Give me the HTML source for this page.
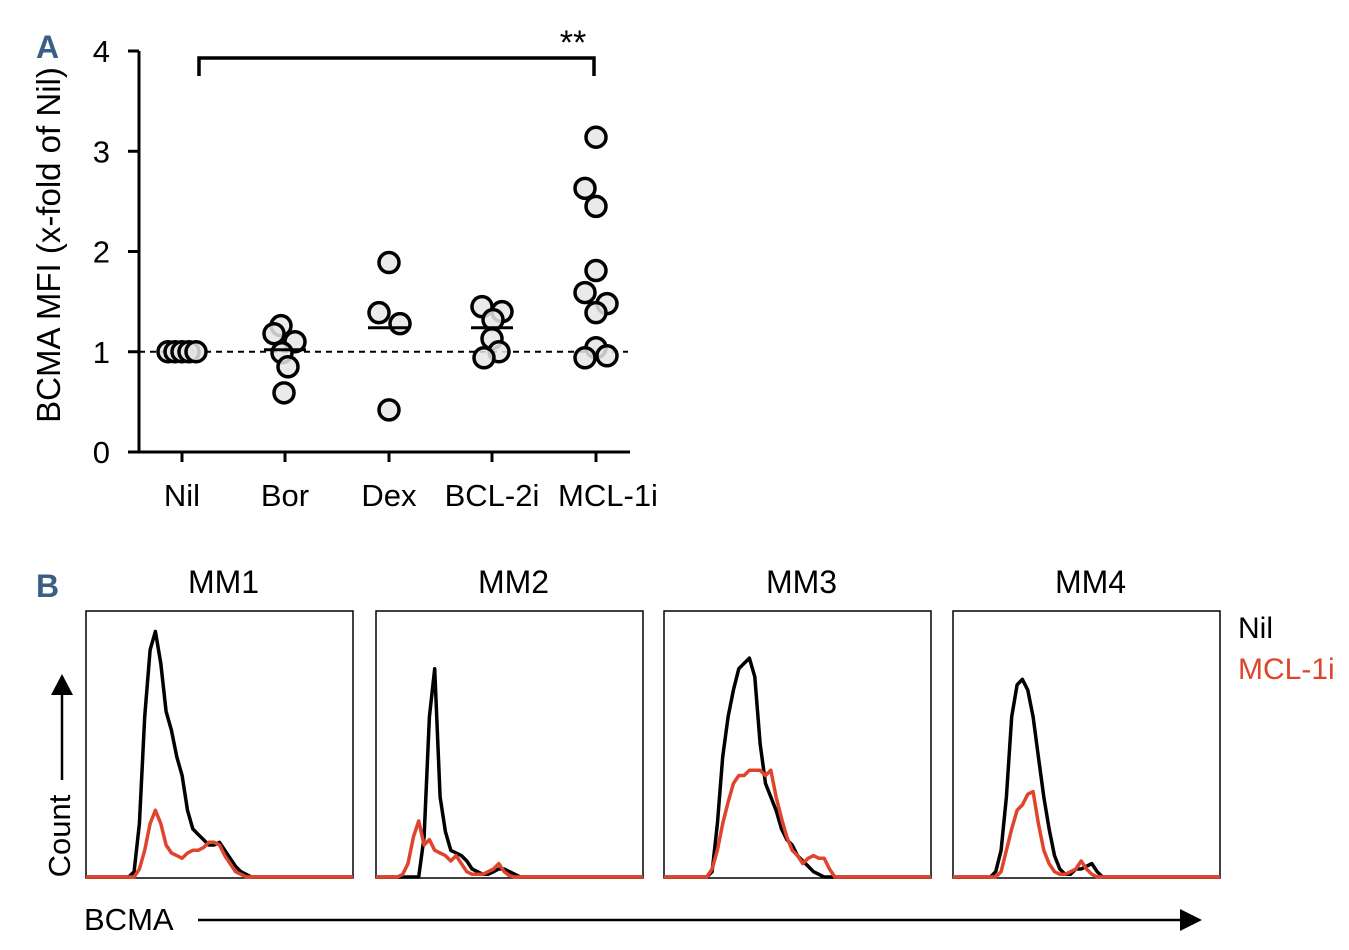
<!DOCTYPE html>
<html><head><meta charset="utf-8"><style>
body{margin:0;background:#fff;}
svg{display:block;font-family:"Liberation Sans",sans-serif;}
</style></head><body>
<svg id="fig" width="1349" height="950" viewBox="0 0 1349 950">
<text x="36" y="58" font-size="32" font-weight="bold" fill="#3a5f86">A</text>
<text x="36" y="597" font-size="32" font-weight="bold" fill="#3a5f86">B</text>
<g id="panelA"></g>
<g id="panelB"></g>
</svg>
<script>
const categories=["Nil","Bor","Dex","BCL-2i","MCL-1i"];
const yTicks=[0,1,2,3,4];
const nilVals=[1,1,1,1,1];
const borVals=[1.26,1.18,1.10,0.99,0.85,0.59];
const dexVals=[1.89,1.39,1.28,0.42];
const bclVals=[1.45,1.40,1.32,1.13,1.0,0.94];
const mclVals=[3.14,2.63,2.45,1.81,1.59,1.48,1.39,1.04,0.96,0.94];
const groupMeans=[1.0,1.02,1.24,1.24,null];
const jitter=[[-14,-7,0,7,14],[-4,-11,10,-3,3,-1],[0,-10,11,0],[-10,10,1,0,7,-8],[0,-11,0,0,-11,11,0,0,11,-11]];
const histLabels=["MM1","MM2","MM3","MM4"];
const nilHist=[
[0,0,0,0,0,0,0,0,0,0.02,0.2,0.6,0.85,0.92,0.8,0.62,0.55,0.45,0.38,0.25,0.18,0.16,0.14,0.12,0.12,0.13,0.1,0.07,0.04,0.02,0.01,0,0,0,0,0,0,0,0,0,0,0,0,0,0,0,0,0,0,0,0],
[0,0,0,0,0,0,0,0,0,0.15,0.6,0.78,0.3,0.17,0.1,0.09,0.08,0.06,0.03,0.02,0.01,0.01,0.02,0.03,0.03,0.02,0.01,0,0,0,0,0,0,0,0,0,0,0,0,0,0,0,0,0,0,0,0,0,0,0,0],
[0,0,0,0,0,0,0,0,0,0.02,0.2,0.45,0.6,0.7,0.78,0.8,0.82,0.75,0.5,0.35,0.3,0.25,0.18,0.14,0.12,0.08,0.06,0.04,0.02,0.01,0,0,0,0,0,0,0,0,0,0,0,0,0,0,0,0,0,0,0,0,0],
[0,0,0,0,0,0,0,0,0.02,0.1,0.3,0.6,0.72,0.74,0.7,0.6,0.45,0.3,0.18,0.08,0.03,0.01,0.01,0.03,0.03,0.04,0.05,0.02,0,0,0,0,0,0,0,0,0,0,0,0,0,0,0,0,0,0,0,0,0,0,0]];
const mclHist=[
[0,0,0,0,0,0,0,0,0,0,0.03,0.1,0.2,0.25,0.2,0.12,0.09,0.08,0.07,0.09,0.1,0.1,0.11,0.13,0.13,0.12,0.08,0.05,0.02,0.01,0,0,0,0,0,0,0,0,0,0,0,0,0,0,0,0,0,0,0,0,0],
[0,0,0,0,0,0.01,0.05,0.15,0.21,0.12,0.14,0.1,0.09,0.08,0.06,0.08,0.05,0.02,0.01,0.01,0.01,0.02,0.03,0.05,0.02,0.005,0,0,0,0,0,0,0,0,0,0,0,0,0,0,0,0,0,0,0,0,0,0,0,0,0],
[0,0,0,0,0,0,0,0,0,0.03,0.1,0.2,0.28,0.35,0.38,0.38,0.4,0.4,0.4,0.38,0.4,0.3,0.22,0.15,0.1,0.08,0.05,0.07,0.08,0.07,0.07,0.03,0,0,0,0,0,0,0,0,0,0,0,0,0,0,0,0,0,0,0],
[0,0,0,0,0,0,0,0,0,0.02,0.1,0.18,0.25,0.27,0.31,0.32,0.2,0.1,0.05,0.02,0.01,0.01,0.02,0.03,0.06,0.03,0.01,0,0,0,0,0,0,0,0,0,0,0,0,0,0,0,0,0,0,0,0,0,0,0,0]];

const NS="http://www.w3.org/2000/svg";
function mk(p,t,a){const e=document.createElementNS(NS,t);for(const k in a)e.setAttribute(k,a[k]);p.appendChild(e);return e;}
const A=document.getElementById('panelA');
const y0=452,yPer=100.25;
const yS=v=>y0-v*yPer;
const catX=[182,285,389,492,596];
const xS=i=>catX[i];
let e=mk(A,'line',{x1:139,y1:yS(4),x2:139,y2:y0+1.5,stroke:'#000','stroke-width':3});


e=mk(A,'line',{x1:128,y1:y0,x2:630,y2:y0,stroke:'#000','stroke-width':3});


yTicks.forEach(t=>{
 mk(A,'line',{x1:128,y1:yS(t),x2:139,y2:yS(t),stroke:'#000','stroke-width':3});
 const tx=mk(A,'text',{x:110,y:yS(t)+11,'font-size':31,'text-anchor':'end'});tx.textContent=t;
 
 
});
categories.forEach((c,i)=>{
 mk(A,'line',{x1:xS(i),y1:y0,x2:xS(i),y2:y0+10,stroke:'#000','stroke-width':3});
 const tx=mk(A,'text',{x:xS(i)+(i==4?12:0),y:506,'font-size':31,'text-anchor':'middle'});tx.textContent=c;
 
 
});
const yt=mk(A,'text',{x:0,y:0,'font-size':33,'text-anchor':'middle',transform:'translate(60,245) rotate(-90)'});
yt.textContent='BCMA MFI (x-fold of Nil)';


e=mk(A,'line',{x1:139,y1:yS(1),x2:628,y2:yS(1),stroke:'#000','stroke-width':2,'stroke-dasharray':'6,5'});


e=mk(A,'path',{d:`M${xS(0)+17},76 V58 H${xS(4)-2} V76`,fill:'none',stroke:'#000','stroke-width':3.5});


e=mk(A,'text',{x:573,y:54,'font-size':34,'text-anchor':'middle'});e.textContent='**';


const groups=[nilVals,borVals,dexVals,bclVals,mclVals];
groups.forEach((vals,g)=>{
 vals.forEach((v,j)=>{
  const c=mk(A,'circle',{cx:xS(g)+jitter[g][j],cy:yS(v),r:10,fill:'rgba(230,230,230,0.85)',stroke:'#000','stroke-width':3.5});
  
  
 });
 if(groupMeans[g]!=null&&g>0){
  const m=mk(A,'line',{x1:xS(g)-21,x2:xS(g)+21,y1:yS(groupMeans[g]),y2:yS(groupMeans[g]),stroke:'#000','stroke-width':3});
  
  
 }
});
const B=document.getElementById('panelB');
const boxX=[86,376,664,953],boxTop=611,boxW=267,boxH=267,bottom=878;
histLabels.forEach((lab,k)=>{
 const bx=boxX[k];
 const r=mk(B,'rect',{x:bx,y:boxTop,width:boxW,height:boxH,fill:'none',stroke:'#000','stroke-width':1.5});
 
 
 const t=mk(B,'text',{x:bx+boxW/2+4,y:593,'font-size':32,'text-anchor':'middle'});t.textContent=lab;
 
 
 [[nilHist,'#000'],[mclHist,'#e0442c']].forEach(([arr,col])=>{
  const d=arr[k].map((h,i)=>(i?'L':'M')+(bx+i*0.02*boxW).toFixed(1)+','+(bottom-1-h*boxH).toFixed(1)).join(' ');
  const p=mk(B,'path',{d:d,fill:'none',stroke:col,'stroke-width':3.5,'stroke-linejoin':'round'});
  
  
 });
});
e=mk(B,'text',{x:1238,y:638,'font-size':30});e.textContent='Nil';


e=mk(B,'text',{x:1238,y:679,'font-size':30,fill:'#e0442c'});e.textContent='MCL-1i';


e=mk(B,'text',{x:0,y:0,'font-size':31,'text-anchor':'middle',transform:'translate(70,836) rotate(-90)'});e.textContent='Count';


e=mk(B,'line',{x1:62,y1:780,x2:62,y2:690,stroke:'#000','stroke-width':2.5});


mk(B,'polygon',{points:'51,695 73,695 62,674',fill:'#000'});
e=mk(B,'text',{x:84,y:930,'font-size':31});e.textContent='BCMA';


e=mk(B,'line',{x1:198,y1:920,x2:1185,y2:920,stroke:'#000','stroke-width':2.5});


mk(B,'polygon',{points:'1180,909 1180,931 1202,920',fill:'#000'});
</script>
</body></html>
